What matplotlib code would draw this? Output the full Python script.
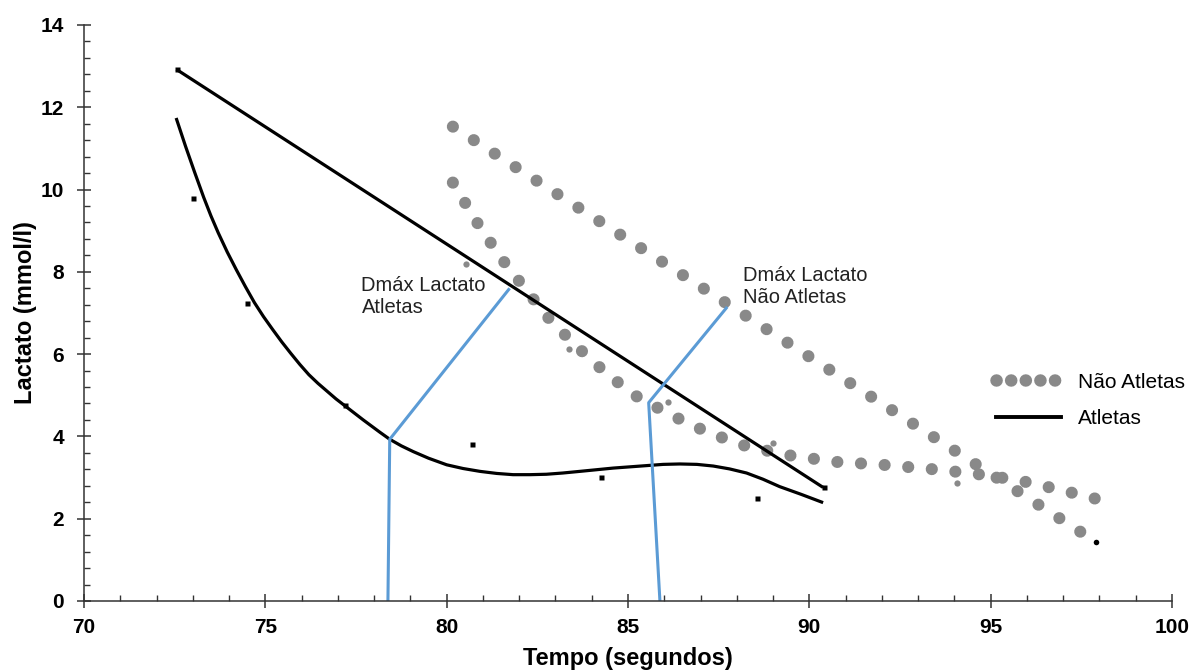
import matplotlib.pyplot as plt
from matplotlib.lines import Line2D
from matplotlib.ticker import MultipleLocator

plt.rcParams['font.family'] = ['Liberation Sans', 'DejaVu Sans']

# Atletas: pontos medidos
atl_x = [72.55, 73.0, 74.5, 77.2, 80.7, 84.25, 88.55, 90.4]
atl_y = [12.92, 9.8, 7.25, 4.77, 3.82, 3.02, 2.5, 2.76]

# Atletas: curva de tendencia
atl_curva_x = [72.54, 72.8, 73.05, 73.3, 73.5, 73.7, 73.95, 74.2, 74.45, 74.7,
               74.95, 75.2, 75.45, 75.7, 75.95, 76.2, 76.45, 76.7, 76.95, 77.2,
               77.45, 77.7, 77.93, 78.16, 78.43, 78.75, 79.08, 79.5, 80.0, 80.45,
               80.92, 81.38, 81.83, 82.3, 82.75, 83.2, 83.67, 84.13, 84.59, 85.05,
               85.51, 85.97, 86.43, 86.9, 87.35, 87.8, 88.27, 88.72, 89.18, 89.78,
               90.38]
atl_curva_y = [11.74, 11.05, 10.42, 9.81, 9.36, 8.95, 8.48, 8.05, 7.64, 7.25,
               6.91, 6.60, 6.30, 6.02, 5.75, 5.50, 5.29, 5.10, 4.91, 4.74,
               4.57, 4.40, 4.25, 4.10, 3.93, 3.77, 3.63, 3.47, 3.31, 3.22,
               3.15, 3.10, 3.07, 3.07, 3.08, 3.11, 3.15, 3.19, 3.23, 3.26,
               3.29, 3.32, 3.33, 3.32, 3.28, 3.21, 3.11, 2.96, 2.78, 2.59,
               2.39]

# Atletas: reta entre primeiro e ultimo ponto
atl_reta_x = [72.55, 90.38]
atl_reta_y = [12.92, 2.76]

# Nao atletas: pontos medidos
nat_x = [80.53, 83.37, 86.10, 88.99, 94.06, 97.9]
nat_y = [8.18, 6.13, 4.84, 3.84, 2.87, 2.48]
nat_fim_x = [97.9]
nat_fim_y = [1.44]

# Nao atletas: curva de tendencia
nat_curva_x = [80.17, 80.80, 81.47, 82.18, 82.87, 83.62, 84.44, 85.29, 86.28, 87.22,
               88.30, 89.51, 90.75, 92.02, 93.32, 94.59, 95.74, 96.93, 97.92]
nat_curva_y = [10.17, 9.25, 8.37, 7.57, 6.81, 6.16, 5.50, 4.94, 4.48, 4.09,
               3.75, 3.53, 3.38, 3.31, 3.21, 3.09, 2.94, 2.70, 2.48]

# Nao atletas: reta
nat_reta_x = [80.17, 97.9]
nat_reta_y = [11.53, 1.44]

# Dmax
dmax_atl_x = [78.38, 78.43, 81.71]
dmax_atl_y = [0.0, 3.93, 7.57]
dmax_nat_x = [85.88, 85.57, 87.71]
dmax_nat_y = [0.0, 4.82, 7.12]

cinza = '#898989'
azul = '#5B9BD5'

fig = plt.figure(figsize=(11.97, 6.72), dpi=100)
ax = fig.add_axes([0.0702, 0.1057, 0.9089, 0.8571])

# nao atletas (pontilhado)
ax.plot(nat_reta_x, nat_reta_y, color=cinza, lw=8.7, linestyle=(0, (0.01, 2.05)),
        dash_capstyle='round')
ax.plot(nat_curva_x, nat_curva_y, color=cinza, lw=8.7, linestyle=(0, (0.01, 1.95)),
        dash_capstyle='round')
ax.plot(nat_x, nat_y, 'o', color=cinza, ms=4.5, mec='none')
ax.plot(nat_fim_x, nat_fim_y, 'o', color='black', ms=4, mec='none')

# atletas
ax.plot(atl_reta_x, atl_reta_y, color='black', lw=2.3, solid_capstyle='butt')
ax.plot(atl_curva_x, atl_curva_y, color='black', lw=2.3, solid_capstyle='butt',
        solid_joinstyle='round')
ax.plot(atl_x, atl_y, 's', color='black', ms=3.6, mec='none')

# linhas Dmax
ax.plot(dmax_atl_x, dmax_atl_y, color=azul, lw=2.2)
ax.plot(dmax_nat_x, dmax_nat_y, color=azul, lw=2.2)

ax.text(77.65, 7.91, 'Dmáx Lactato\nAtletas', fontsize=14.5, color='#222222',
        va='top', ha='left')
ax.text(88.17, 8.15, 'Dmáx Lactato\nNão Atletas', fontsize=14.5, color='#222222',
        va='top', ha='left')

ax.set_xlim(70, 100)
ax.set_ylim(0, 14)
ax.xaxis.set_major_locator(MultipleLocator(5))
ax.xaxis.set_minor_locator(MultipleLocator(1))
ax.yaxis.set_major_locator(MultipleLocator(2))
ax.yaxis.set_minor_locator(MultipleLocator(0.4))
ax.tick_params(which='major', direction='inout', length=10, width=1.1,
               labelsize=15, color='#333333')
ax.tick_params(which='minor', direction='in', length=4.5, width=1.0, color='#333333')
ax.tick_params(axis='x', which='major', pad=7.5)
ax.tick_params(axis='y', which='major', pad=9.5)
for lab in ax.get_xticklabels() + ax.get_yticklabels():
    lab.set_fontweight('bold')

for s in ['top', 'right']:
    ax.spines[s].set_visible(False)
for s in ['left', 'bottom']:
    ax.spines[s].set_linewidth(1.1)
    ax.spines[s].set_color('#333333')

ax.set_xlabel('Tempo (segundos)', fontsize=17, fontweight='bold')
ax.set_ylabel('Lactato (mmol/l)', fontsize=17, fontweight='bold')
ax.xaxis.set_label_coords(0.5, -0.080)
ax.yaxis.set_label_coords(-0.043, 0.5)

handles = [
    Line2D([], [], color=cinza, lw=9, linestyle=(0, (0.01, 1.16)), dash_capstyle='round'),
    Line2D([], [], color='black', lw=2.8),
]
ax.legend(handles, ['Não Atletas', 'Atletas'], loc='center left',
          bbox_to_anchor=(95.16, 4.87), bbox_transform=ax.transData,
          frameon=False, fontsize=15, handlelength=3.1, handletextpad=0.8,
          labelspacing=0.85, borderpad=0, borderaxespad=0)

fig.savefig('out.png', dpi=100)
